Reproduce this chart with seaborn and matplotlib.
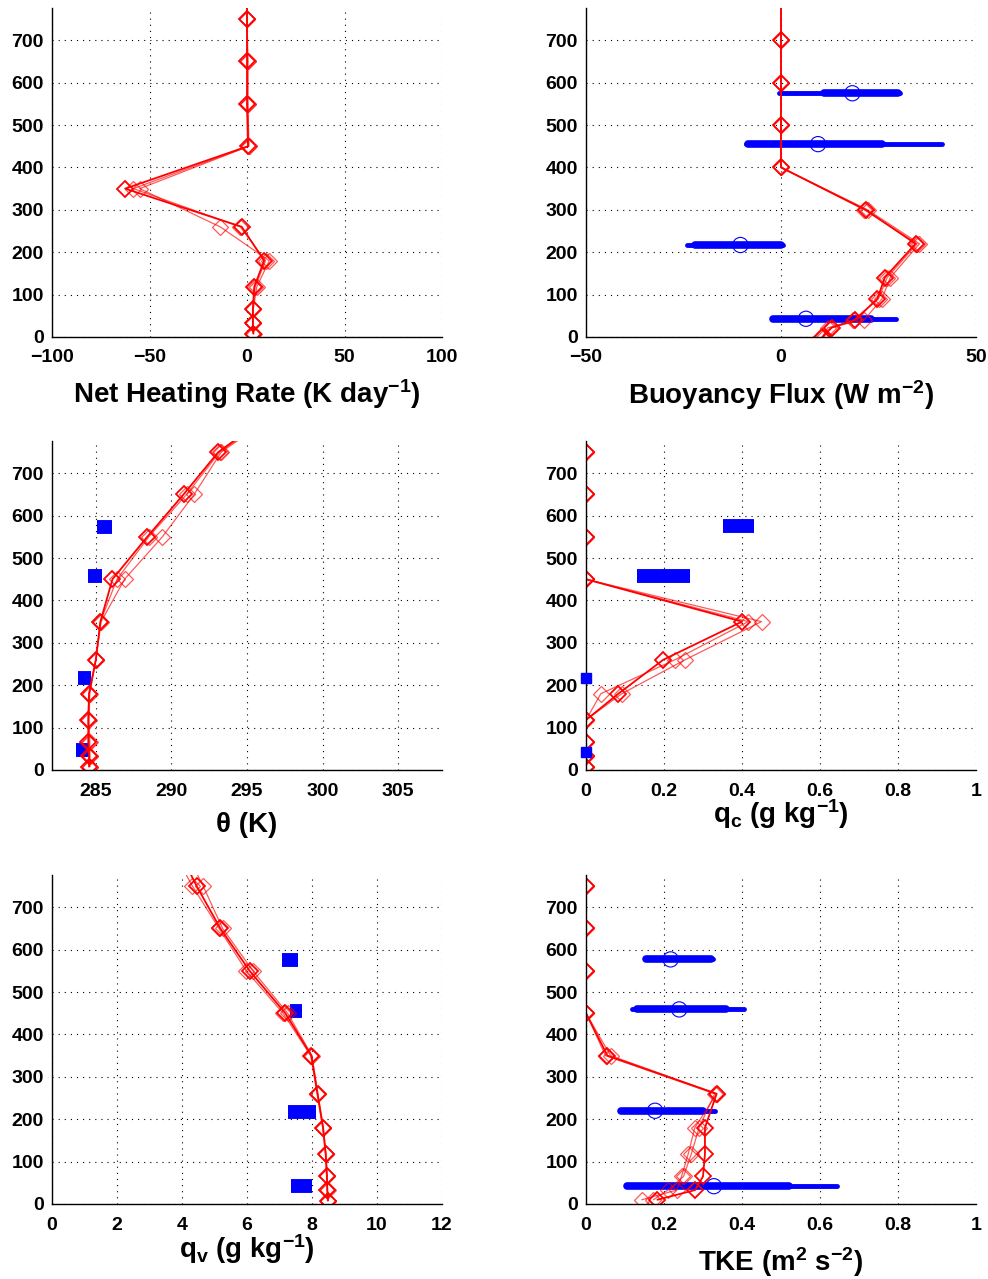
import matplotlib
matplotlib.use("Agg")
import matplotlib.pyplot as plt
import numpy as np
import pandas as pd
import seaborn as sns

# ---------------- data ----------------
# model levels (m)
z_mid = [850, 750, 650, 550, 450, 350, 260, 180, 118, 65, 32, 8]
z_bflux = [800, 700, 600, 500, 400, 300, 220, 140, 90, 40, 22, 0]
z_tke = [850, 750, 650, 550, 450, 350, 260, 180, 118, 65, 33, 10]

# net heating rate (K/day), three model runs
heat_a = [0, 0, 0, 0, 0.5, -62.5, -2.7, 8.8, 3.7, 3.0, 3.0, 3.2]
heat_b = [0, 0, 0.5, 0.5, 1.0, -55.0, -13.8, 11.4, 5.0, 3.2, 3.2, 3.5]
heat_c = [0, 0, 0.3, 0.3, 0.8, -58.3, -3.5, 9.5, 4.2, 3.0, 3.1, 3.3]

# buoyancy flux (W/m2)
bflux_a = [0, 0, 0, 0, 0, 21.7, 34.5, 26.6, 24.7, 19.0, 13.0, 10.6]
bflux_b = [0, 0, 0, 0, 0, 22.2, 35.5, 28.0, 25.9, 21.3, 12.0, 10.6]
bflux_c = [0, 0, 0, 0, 0, 21.4, 34.9, 27.2, 25.0, 18.5, 12.6, 11.0]

# potential temperature (K)
theta_a = [297.0, 293.1, 290.8, 288.4, 286.1, 285.3, 285.0, 284.55, 284.5, 284.5, 284.55, 284.55]
theta_b = [297.3, 293.3, 291.5, 289.4, 286.9, 285.35, 285.0, 284.6, 284.55, 284.6, 284.6, 284.6]
theta_c = [297.1, 293.2, 291.0, 288.5, 286.4, 285.3, 285.0, 284.55, 284.5, 284.55, 284.6, 284.6]

# cloud water (g/kg)
qc_a = [0, 0, 0, 0, 0, 0.400, 0.198, 0.083, 0, 0, 0, 0]
qc_b = [0, 0, 0, 0, 0, 0.450, 0.254, 0.092, 0, 0, 0, 0]
qc_c = [0, 0, 0, 0, 0, 0.416, 0.228, 0.038, 0, 0, 0, 0]

# water vapour (g/kg)
qv_a = [3.8, 4.45, 5.18, 6.08, 7.18, 7.98, 8.17, 8.34, 8.42, 8.46, 8.47, 8.49]
qv_b = [4.0, 4.65, 5.25, 6.18, 7.25, 8.00, 8.18, 8.35, 8.43, 8.47, 8.48, 8.50]
qv_c = [3.6, 4.32, 5.14, 5.98, 7.11, 7.96, 8.16, 8.33, 8.42, 8.45, 8.47, 8.49]

# TKE (m2/s2)
tke_a = [0, 0, 0, 0, 0, 0.055, 0.335, 0.305, 0.305, 0.300, 0.280, 0.183]
tke_b = [0, 0, 0, 0, 0, 0.063, 0.335, 0.279, 0.262, 0.245, 0.233, 0.143]
tke_c = [0, 0, 0, 0, 0, 0.050, 0.330, 0.290, 0.270, 0.250, 0.210, 0.173]

# observations: flight-leg heights and ranges
bflux_obs_z = [575, 455, 217, 43]
bflux_obs_lo = [-0.4, -8.9, -24.0, -2.1]
bflux_obs_hi = [30.6, 41.2, 0.4, 29.6]
bflux_core_lo = [11.0, -8.5, -22.0, -2.0]
bflux_core_hi = [30.0, 26.0, 0.0, 23.0]
bflux_obs_mean = [18.3, 9.5, -10.4, 6.4]

theta_obs_z = [574, 457, 217, 46]
theta_obs_lo = [285.1, 284.45, 283.85, 283.7]
theta_obs_hi = [286.1, 285.4, 284.65, 284.55]

qc_obs_z = [575, 457]
qc_obs_lo = [0.352, 0.130]
qc_obs_hi = [0.432, 0.267]
qc_zero_z = [217, 42]
qc_zero_x = [0.0, 0.0]

qv_obs_z = [576, 456, 216, 42]
qv_obs_lo = [7.09, 7.31, 7.26, 7.34]
qv_obs_hi = [7.57, 7.70, 8.11, 8.01]

tke_obs_z = [577, 459, 220, 42]
tke_obs_lo = [0.154, 0.117, 0.087, 0.106]
tke_obs_hi = [0.325, 0.405, 0.331, 0.643]
tke_core_lo = [0.154, 0.130, 0.090, 0.106]
tke_core_hi = [0.320, 0.360, 0.300, 0.520]
tke_obs_mean = [0.217, 0.239, 0.177, 0.328]

# ---------------- style ----------------
sns.set_style("white")
plt.rcParams["font.family"] = ["Liberation Sans", "DejaVu Sans"]
plt.rcParams["font.weight"] = "bold"
plt.rcParams["text.color"] = "black"
plt.rcParams["axes.labelcolor"] = "black"
plt.rcParams["xtick.color"] = "black"
plt.rcParams["ytick.color"] = "black"
plt.rcParams["mathtext.fontset"] = "custom"
plt.rcParams["mathtext.rm"] = "Liberation Sans:bold"
plt.rcParams["mathtext.it"] = "Liberation Sans:bold:italic"
plt.rcParams["mathtext.bf"] = "Liberation Sans:bold"
plt.rcParams["mathtext.default"] = "rm"

fig = plt.figure(figsize=(9.88, 12.79), dpi=100)
W, H = 390 / 988, 0.2572
lefts = [52 / 988, 586 / 988]
bottoms = [1 - 337 / 1279, 1 - 770 / 1279, 1 - 1204 / 1279]

BLUE = "#0000ff"
RED = "#ff0000"


def make_ax(row, col):
    ax = fig.add_axes([lefts[col], bottoms[row], W, H])
    ax.set_ylim(0, 776)
    ax.set_yticks([0, 100, 200, 300, 400, 500, 600, 700])
    ax.grid(True, color="k", linestyle=(0, (1, 4.5)), linewidth=0.8)
    ax.set_axisbelow(True)
    for s in ["top", "right"]:
        ax.spines[s].set_visible(False)
    for s in ["left", "bottom"]:
        ax.spines[s].set_color("k")
        ax.spines[s].set_linewidth(1.0)
    ax.tick_params(axis="both", direction="in", length=4, width=0.8,
                   labelsize=14, colors="k", top=False, right=False)
    ax.tick_params(axis="x", pad=9)
    ax.tick_params(axis="y", pad=6)
    return ax


def red_profiles(ax, z, a, b, c):
    for vals in (b, c):
        sns.lineplot(x=vals, y=z, sort=False, estimator=None, ax=ax,
                     color=RED, alpha=0.65, linewidth=0.9, marker="D",
                     markersize=8.5, markerfacecolor="none",
                     markeredgecolor=RED, markeredgewidth=0.9, legend=False)
    sns.lineplot(x=a, y=z, sort=False, estimator=None, ax=ax,
                 color=RED, linewidth=1.3, marker="D", markersize=8.5,
                 markerfacecolor="none", markeredgecolor=RED,
                 markeredgewidth=1.3, legend=False)


def obs_clouds(ax, z, lo, hi, clo, chi, mean):
    ax.hlines(z, lo, hi, color=BLUE, linewidth=3.5, capstyle="round")
    ax.hlines(z, clo, chi, color=BLUE, linewidth=5.5, capstyle="round")
    sns.scatterplot(x=mean, y=z, ax=ax, marker="o", s=120,
                    facecolor="none", edgecolor=BLUE, linewidth=0.8,
                    legend=False, zorder=3)


def obs_blobs(ax, z, lo, hi):
    ax.hlines(z, lo, hi, color=BLUE, linewidth=10, capstyle="butt")


def set_label(ax, text, ybase):
    ax.set_xlabel(text, fontsize=20, fontweight="bold", va="baseline")
    ax.xaxis.set_label_coords(0.5, ybase)


# Panel 1: net heating rate
ax = make_ax(0, 0)
red_profiles(ax, z_mid, heat_a, heat_b, heat_c)
ax.set_xlim(-100, 100)
ax.set_xticks([-100, -50, 0, 50, 100])
set_label(ax, "Net Heating Rate (K day$^{-1}$)", -0.202)

# Panel 2: buoyancy flux
ax = make_ax(0, 1)
obs_clouds(ax, bflux_obs_z, bflux_obs_lo, bflux_obs_hi,
           bflux_core_lo, bflux_core_hi, bflux_obs_mean)
red_profiles(ax, z_bflux, bflux_a, bflux_b, bflux_c)
ax.set_xlim(-50, 50)
ax.set_xticks([-50, 0, 50])
set_label(ax, "Buoyancy Flux (W m$^{-2}$)", -0.204)

# Panel 3: theta
ax = make_ax(1, 0)
obs_blobs(ax, theta_obs_z, theta_obs_lo, theta_obs_hi)
red_profiles(ax, z_mid, theta_a, theta_b, theta_c)
ax.set_xlim(282.1, 307.9)
ax.set_xticks([285, 290, 295, 300, 305])
set_label(ax, "θ (K)", -0.187)

# Panel 4: qc
ax = make_ax(1, 1)
obs_blobs(ax, qc_obs_z, qc_obs_lo, qc_obs_hi)
ax.plot(qc_zero_x, qc_zero_z, linestyle="none", marker="s", markersize=7,
        color=BLUE, clip_on=False, zorder=4)
red_profiles(ax, z_mid, qc_a, qc_b, qc_c)
ax.set_xlim(0, 1)
ax.set_xticks([0, 0.2, 0.4, 0.6, 0.8, 1])
ax.set_xticklabels(["0", "0.2", "0.4", "0.6", "0.8", "1"])
set_label(ax, "q$_\\mathrm{c}$ (g kg$^{-1}$)", -0.161)

# Panel 5: qv
ax = make_ax(2, 0)
obs_blobs(ax, qv_obs_z, qv_obs_lo, qv_obs_hi)
red_profiles(ax, z_mid, qv_a, qv_b, qv_c)
ax.set_xlim(0, 12)
ax.set_xticks([0, 2, 4, 6, 8, 10, 12])
set_label(ax, "q$_\\mathrm{v}$ (g kg$^{-1}$)", -0.165)

# Panel 6: TKE
ax = make_ax(2, 1)
obs_clouds(ax, tke_obs_z, tke_obs_lo, tke_obs_hi,
           tke_core_lo, tke_core_hi, tke_obs_mean)
red_profiles(ax, z_tke, tke_a, tke_b, tke_c)
ax.set_xlim(0, 1)
ax.set_xticks([0, 0.2, 0.4, 0.6, 0.8, 1])
ax.set_xticklabels(["0", "0.2", "0.4", "0.6", "0.8", "1"])
set_label(ax, "TKE (m$^2$ s$^{-2}$)", -0.203)

for a in fig.axes:
    a.set_ylabel("")

fig.savefig("out.png", dpi=100)
